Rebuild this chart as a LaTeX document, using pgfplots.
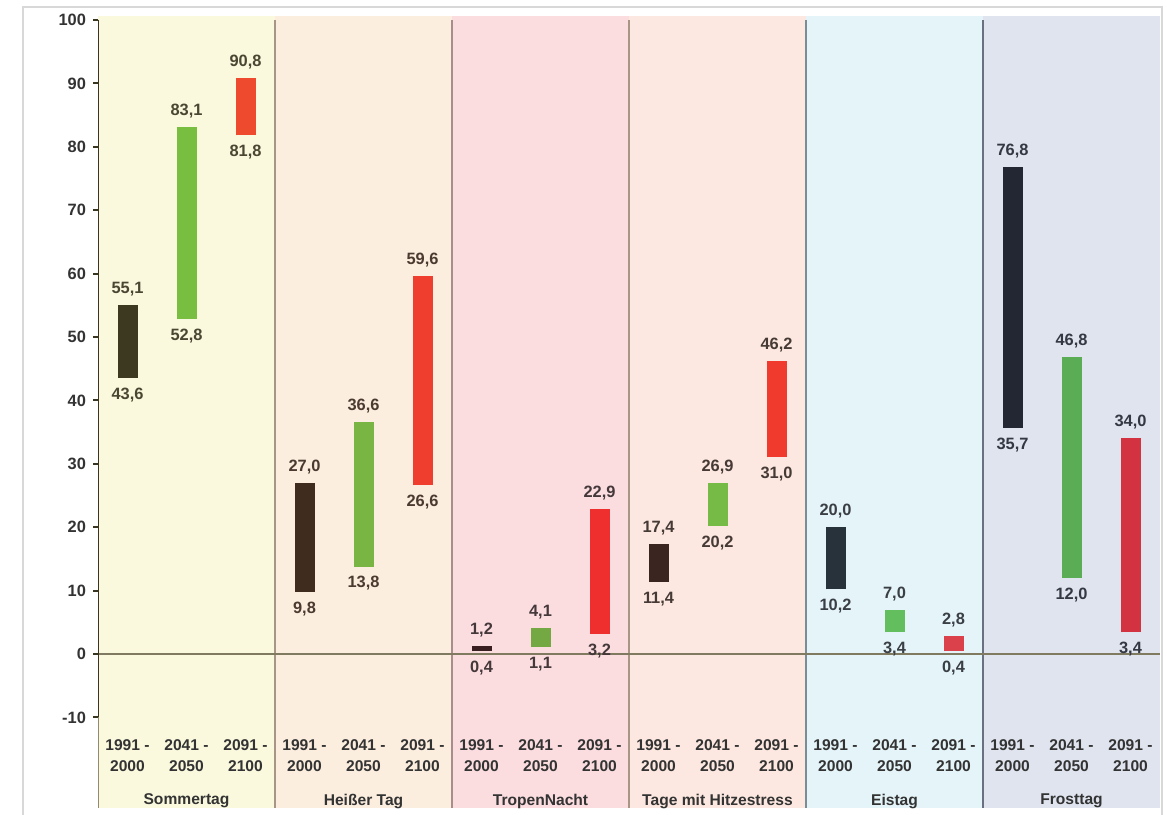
\documentclass[border=0pt]{standalone}
\usepackage{pgfplots}
\pgfplotsset{compat=1.18}
\usepackage{fontspec}
\setmainfont{Liberation Sans}

% backgrounds
\definecolor{bgA}{HTML}{FAF9DE}
\definecolor{bgB}{HTML}{FCEEDF}
\definecolor{bgC}{HTML}{FBDDE0}
\definecolor{bgD}{HTML}{FCE8E0}
\definecolor{bgE}{HTML}{E4F4F8}
\definecolor{bgF}{HTML}{DFE4EF}
% bars
\definecolor{dkA}{HTML}{3D3820}\definecolor{grA}{HTML}{78BF41}\definecolor{rdA}{HTML}{EE4A2E}
\definecolor{dkB}{HTML}{3F2C1F}\definecolor{grB}{HTML}{78B543}\definecolor{rdB}{HTML}{EF3D2E}
\definecolor{dkC}{HTML}{3A1F20}\definecolor{grC}{HTML}{74A843}\definecolor{rdC}{HTML}{EE2F2E}
\definecolor{dkD}{HTML}{3B2521}\definecolor{grD}{HTML}{76BB45}\definecolor{rdD}{HTML}{F13A2E}
\definecolor{dkE}{HTML}{27323A}\definecolor{grE}{HTML}{63BE5E}\definecolor{rdE}{HTML}{DA414A}
\definecolor{dkF}{HTML}{232733}\definecolor{grF}{HTML}{5AAD55}\definecolor{rdF}{HTML}{D33341}
% value label text
\definecolor{txA}{HTML}{4A4632}
\definecolor{txB}{HTML}{4A3A30}
\definecolor{txC}{HTML}{44383A}
\definecolor{txD}{HTML}{463A36}
\definecolor{txE}{HTML}{3A3F45}
\definecolor{txF}{HTML}{343843}
% lines
\definecolor{axcol}{HTML}{3A3520}
\definecolor{zerocol}{HTML}{807A60}
\definecolor{framecol}{HTML}{D8D8D8}
\definecolor{sep0}{HTML}{8F8A70}
\definecolor{sep1}{HTML}{A89585}
\definecolor{sep2}{HTML}{A88D8D}
\definecolor{sep3}{HTML}{A89585}
\definecolor{sep4}{HTML}{7A8C94}
\definecolor{sep5}{HTML}{6A7080}
\definecolor{labcol}{HTML}{333333}

\pgfkeys{/pgf/number format/dec/.style={fixed,fixed zerofill,precision=1,use comma,assume math mode=true}}

\tikzset{
  lbl/.style={font=\fontsize{8.2}{9}\selectfont\bfseries, inner sep=0pt},
  grp/.style={font=\fontsize{7.8}{9}\selectfont\bfseries, inner sep=0pt, text=labcol},
  per/.style={font=\fontsize{7.8}{10.5}\selectfont\bfseries, inner sep=0pt, text=labcol,
    align=center, anchor=north},
}

% floating bar: x, low, high, bar colour, text colour
\newcommand\fbar[5]{%
  \addplot[line width=10pt, draw=#4, forget plot] coordinates {(#1,#2) (#1,#3)};
  \node[lbl, text=#5, anchor=north, yshift=-4.8pt] at (axis cs:#1,#2) {\pgfmathprintnumber[dec]{#2}};
  \node[lbl, text=#5, anchor=south, yshift=4.3pt] at (axis cs:#1,#3) {\pgfmathprintnumber[dec]{#3}};
}
% period labels of one group, centred at x
\newcommand\periods[1]{%
  \node[per] at (axis cs:#1-1,-13.4) {1991 -\\2000};
  \node[per] at (axis cs:#1,-13.4) {2041 -\\2050};
  \node[per] at (axis cs:#1+1,-13.4) {2091 -\\2100};
}

\begin{document}
\begin{tikzpicture}
\useasboundingbox (0,0) rectangle (583.5pt,407pt);
\begin{axis}[
    at={(49pt,2.95pt)}, anchor=south west,
    width=531pt, height=395.95pt, scale only axis,
    xmin=-0.5, xmax=17.5,
    ymin=-24.3, ymax=100.6,
    axis line style={draw=none},
    ytick={-10,0,...,100},
    ytick pos=left,
    tick align=outside,
    major tick length=2.5pt,
    ytick style={line width=1pt, color=axcol},
    yticklabel style={font=\fontsize{8.2}{9}\selectfont\bfseries, text=labcol},
    /pgf/number format/assume math mode=true,
    xtick=\empty,
  ]
  % group backgrounds
  \fill[bgA] (axis cs:-0.5,-24.3) rectangle (axis cs:2.5,100.6);
  \fill[bgB] (axis cs:2.5,-24.3) rectangle (axis cs:5.5,100.6);
  \fill[bgC] (axis cs:5.5,-24.3) rectangle (axis cs:8.5,100.6);
  \fill[bgD] (axis cs:8.5,-24.3) rectangle (axis cs:11.5,100.6);
  \fill[bgE] (axis cs:11.5,-24.3) rectangle (axis cs:14.5,100.6);
  \fill[bgF] (axis cs:14.5,-24.3) rectangle (axis cs:17.5,100.6);
  % separators
  \draw[sep0, line width=1pt] (axis cs:-0.5,-24.3) -- (axis cs:-0.5,-10);
  \draw[sep1, line width=1pt] (axis cs:2.5,-24.3) -- (axis cs:2.5,100);
  \draw[sep2, line width=1pt] (axis cs:5.5,-24.3) -- (axis cs:5.5,100);
  \draw[sep3, line width=1pt] (axis cs:8.5,-24.3) -- (axis cs:8.5,100);
  \draw[sep4, line width=1pt] (axis cs:11.5,-24.3) -- (axis cs:11.5,100);
  \draw[sep5, line width=1pt] (axis cs:14.5,-24.3) -- (axis cs:14.5,100);
  % zero line and y axis
  \draw[zerocol, line width=0.75pt] (axis cs:-0.5,0) -- (axis cs:17.5,0);
  \draw[axcol, line width=1.1pt] (axis cs:-0.5,-10) -- (axis cs:-0.5,100);

  % Sommertag
  \fbar{0}{43.6}{55.1}{dkA}{txA}
  \fbar{1}{52.8}{83.1}{grA}{txA}
  \fbar{2}{81.8}{90.8}{rdA}{txA}
  % Heisser Tag
  \fbar{3}{9.8}{27.0}{dkB}{txB}
  \fbar{4}{13.8}{36.6}{grB}{txB}
  \fbar{5}{26.6}{59.6}{rdB}{txB}
  % TropenNacht
  \fbar{6}{0.4}{1.2}{dkC}{txC}
  \fbar{7}{1.1}{4.1}{grC}{txC}
  \fbar{8}{3.2}{22.9}{rdC}{txC}
  % Tage mit Hitzestress
  \fbar{9}{11.4}{17.4}{dkD}{txD}
  \fbar{10}{20.2}{26.9}{grD}{txD}
  \fbar{11}{31.0}{46.2}{rdD}{txD}
  % Eistag
  \fbar{12}{10.2}{20.0}{dkE}{txE}
  \fbar{13}{3.4}{7.0}{grE}{txE}
  \fbar{14}{0.4}{2.8}{rdE}{txE}
  % Frosttag
  \fbar{15}{35.7}{76.8}{dkF}{txF}
  \fbar{16}{12.0}{46.8}{grF}{txF}
  \fbar{17}{3.4}{34.0}{rdF}{txF}

  % period labels
  \periods{1}\periods{4}\periods{7}\periods{10}\periods{13}\periods{16}

  % group names
  \node[grp] at (axis cs:1,-23.2) {Sommertag};
  \node[grp] at (axis cs:4,-23.2) {Heißer Tag};
  \node[grp] at (axis cs:7,-23.2) {TropenNacht};
  \node[grp] at (axis cs:10,-23.2) {Tage mit Hitzestress};
  \node[grp] at (axis cs:13,-23.2) {Eistag};
  \node[grp] at (axis cs:16,-23.2) {Frosttag};

  % y label centred on the -10..100 range
  \node[font=\fontsize{8.2}{9}\selectfont\bfseries, text=labcol, rotate=90]
    at ([xshift=-28pt]axis cs:-0.5,45) {Jährliche Anzahl von Ereihnistagen};
\end{axis}
\draw[framecol, line width=1pt] (11.5pt,-10pt) -- (11.5pt,403.5pt) -- (580.75pt,403.5pt) -- (580.75pt,-10pt);
\end{tikzpicture}
\end{document}
